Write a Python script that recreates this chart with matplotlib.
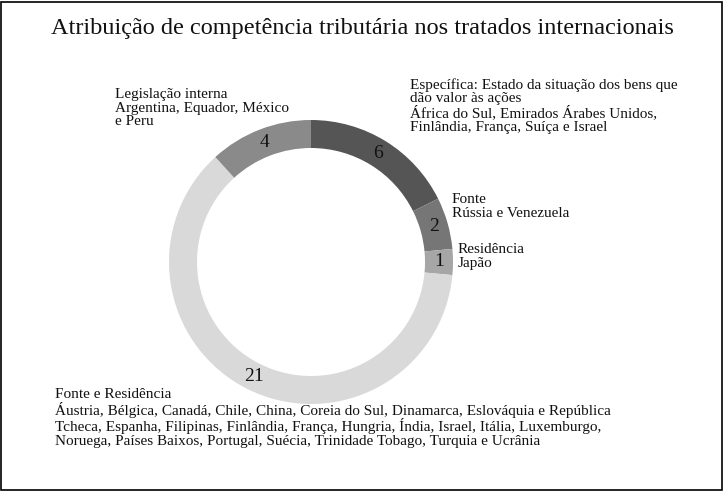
import matplotlib
matplotlib.use("Agg")
import matplotlib.pyplot as plt
from matplotlib.patches import Rectangle
import numpy as np

title = "Atribuição de competência tributária nos tratados internacionais"
categories = ["Específica", "Fonte", "Residência", "Fonte e Residência", "Legislação interna"]
values = [6, 2, 1, 21, 4]
colors = ["#555555", "#767676", "#a6a6a6", "#d9d9d9", "#8a8a8a"]
descs = [
    "Específica: Estado da situação dos bens que\ndão valor às ações\nÁfrica do Sul, Emirados Árabes Unidos,\nFinlândia, França, Suíça e Israel",
    "Fonte\nRússia e Venezuela",
    "Residência\nJapão",
    "Fonte e Residência\nÁustria, Bélgica, Canadá, Chile, China, Coreia do Sul, Dinamarca, Eslováquia e República\nTcheca, Espanha, Filipinas, Finlândia, França, Hungria, Índia, Israel, Itália, Luxemburgo,\nNoruega, Países Baixos, Portugal, Suécia, Trinidade Tobago, Turquia e Ucrânia",
    "Legislação interna\nArgentina, Equador, México\ne Peru",
]
desc_pos = [(410, 78), (452, 193), (458, 243), (55, 388), (115, 88)]

plt.rcParams["font.family"] = "Liberation Serif"
W, H = 724, 491
fig = plt.figure(figsize=(W/100, H/100), dpi=100)
ax = fig.add_axes([0, 0, 1, 1])
ax.set_xlim(0, W); ax.set_ylim(0, H); ax.axis("off")
ax.add_patch(Rectangle((1, 1), W-3, H-3, fill=False, lw=1.2, ec="black"))

cx, cy, R, w = 311, H-262, 142, 28
wedges, _ = ax.pie(values, colors=colors, startangle=90, counterclock=False,
                   center=(cx, cy), radius=R, wedgeprops=dict(width=w, edgecolor="none"))
ax.set_aspect("equal")
ax.set_xlim(0, W); ax.set_ylim(0, H)
for wd, v in zip(wedges, values):
    a = np.deg2rad((wd.theta1 + wd.theta2) / 2)
    r = R - w/2
    ax.text(cx + r*np.cos(a), cy + r*np.sin(a), str(v), ha="center", va="center", fontsize=14, color="#111")

for d, (x, y) in zip(descs, desc_pos):
    ax.text(x, H-y, d, ha="left", va="top", fontsize=11, linespacing=1.05, color="#111")

ax.text(W/2, H-28, title, ha="center", va="center", fontsize=17.5, color="#111")
fig.savefig("out.png", dpi=100)
